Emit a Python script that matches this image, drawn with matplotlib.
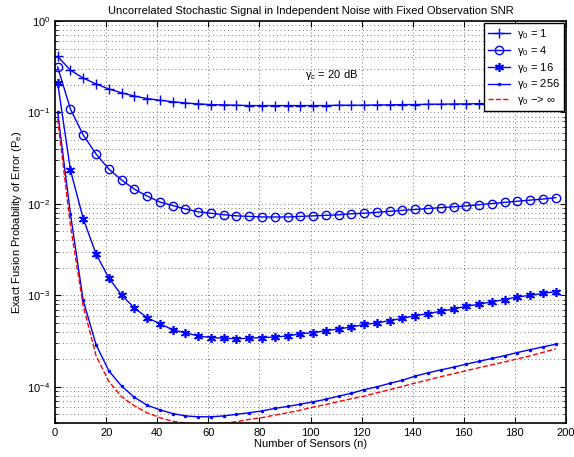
import numpy as np
import matplotlib
matplotlib.use("Agg")
import matplotlib.pyplot as plt
from matplotlib.ticker import LogLocator, NullFormatter, MultipleLocator

plt.rcParams["font.family"] = ["Liberation Sans", "DejaVu Sans"]
plt.rcParams["mathtext.fontset"] = "custom"
plt.rcParams["mathtext.rm"] = "Liberation Sans"
plt.rcParams["mathtext.it"] = "Liberation Sans"
plt.rcParams["mathtext.default"] = "regular"

# number of sensors (markers every 5 sensors)
n = list(range(1, 200, 5))

# gamma_0 = 1
pe_g1 = [0.41, 0.29, 0.238, 0.205, 0.181, 0.164, 0.151, 0.142, 0.136, 0.131,
         0.127, 0.124, 0.122, 0.121, 0.120, 0.119, 0.119, 0.119, 0.119, 0.119,
         0.119, 0.119, 0.120, 0.120, 0.120, 0.121, 0.121, 0.122, 0.122, 0.123,
         0.123, 0.124, 0.124, 0.125, 0.125, 0.126, 0.126, 0.127, 0.127, 0.128]

# gamma_0 = 4
pe_g4 = [0.314, 0.109, 0.0568, 0.0352, 0.0241, 0.0183, 0.0145, 0.0122, 0.0105, 0.0096,
         0.0088, 0.0082, 0.0079, 0.0076, 0.0074, 0.0073, 0.0072, 0.0072, 0.0072, 0.0073,
         0.0074, 0.0075, 0.0076, 0.0078, 0.0079, 0.0081, 0.0083, 0.0085, 0.0087, 0.0089,
         0.0091, 0.0093, 0.0095, 0.0098, 0.0101, 0.0104, 0.0107, 0.0110, 0.0113, 0.0117]

# gamma_0 = 16
pe_g16 = [0.21, 0.0235, 0.0069, 0.00285, 0.00155, 0.00101, 0.00073, 0.00057, 0.00049, 0.00042,
          0.00039, 0.00036, 0.000345, 0.00034, 0.000335, 0.00034, 0.000345, 0.00035, 0.00036, 0.00038,
          0.00039, 0.00041, 0.00043, 0.00045, 0.00048, 0.00050, 0.00053, 0.00056, 0.00060, 0.00063,
          0.00067, 0.00071, 0.00076, 0.00080, 0.00085, 0.00090, 0.00096, 0.00100, 0.00105, 0.00110]

# gamma_0 = 256
pe_g256 = [0.1, 0.0078, 0.00088, 0.00029, 0.00015, 0.000102, 7.7e-5, 6.3e-5, 5.6e-5, 5.1e-5,
           4.8e-5, 4.7e-5, 4.7e-5, 4.8e-5, 5.0e-5, 5.2e-5, 5.45e-5, 5.8e-5, 6.1e-5, 6.45e-5,
           6.85e-5, 7.3e-5, 7.9e-5, 8.5e-5, 9.3e-5, 1.0e-4, 1.09e-4, 1.18e-4, 1.31e-4, 1.42e-4,
           1.53e-4, 1.64e-4, 1.77e-4, 1.90e-4, 2.04e-4, 2.19e-4, 2.37e-4, 2.55e-4, 2.73e-4, 2.92e-4]

# gamma_0 -> infinity
pe_inf = [0.085, 0.0058, 0.00077, 0.00022, 0.000115, 7.8e-5, 6.2e-5, 5.2e-5, 4.6e-5, 4.2e-5,
          4.0e-5, 3.9e-5, 3.9e-5, 4.0e-5, 4.15e-5, 4.4e-5, 4.6e-5, 4.9e-5, 5.2e-5, 5.55e-5,
          6.0e-5, 6.4e-5, 6.9e-5, 7.4e-5, 7.9e-5, 8.6e-5, 9.3e-5, 1.01e-4, 1.1e-4, 1.19e-4,
          1.29e-4, 1.39e-4, 1.5e-4, 1.62e-4, 1.74e-4, 1.87e-4, 2.02e-4, 2.18e-4, 2.38e-4, 2.6e-4]

fig = plt.figure(figsize=(5.74, 4.57), dpi=100)
ax = fig.add_axes([0.096, 0.074, 0.890, 0.880])

ax.plot(n, pe_g1, color="blue", marker="+", markersize=6.5, linewidth=1, label="$\\gamma_0$ = 1")
ax.plot(n, pe_g4, color="blue", marker="o", markersize=6, markerfacecolor="none",
        linewidth=1, label="$\\gamma_0$ = 4")
ax.plot(n, pe_g16, color="blue", marker=(6, 2, 0), markersize=6.5, markeredgewidth=1.2,
        linewidth=1, label="$\\gamma_0$ = 16")
ax.plot(n, pe_g256, color="blue", marker=".", markersize=3, linewidth=1, label="$\\gamma_0$ = 256")
ax.plot(n, pe_inf, color="red", linestyle="--", linewidth=1, label="$\\gamma_0$ \u2212> \u221e")

ax.set_yscale("log")
ax.set_xlim(0, 200)
ax.set_ylim(4e-5, 1)
ax.xaxis.set_major_locator(MultipleLocator(20))
ax.yaxis.set_major_locator(LogLocator(base=10, numticks=10))
ax.yaxis.set_minor_locator(LogLocator(base=10, subs=np.arange(2, 10), numticks=10))
ax.yaxis.set_minor_formatter(NullFormatter())

ax.grid(True, which="major", linestyle=(0, (1, 3.5)), color="0.3", linewidth=0.6)
ax.grid(True, which="minor", axis="y", linestyle=(0, (1, 3.5)), color="0.3", linewidth=0.6)
ax.tick_params(which="both", direction="in", top=True, right=True, labelsize=8)
ax.tick_params(which="major", length=4)
ax.tick_params(which="minor", length=2)
for s in ax.spines.values():
    s.set_linewidth(1.2)

ax.set_title("Uncorrelated Stochastic Signal in Independent Noise with Fixed Observation SNR",
             fontsize=8, pad=5)
ax.set_xlabel("Number of Sensors (n)", fontsize=8, labelpad=1)
ax.set_ylabel("Exact Fusion Probability of Error (P$_e$)", fontsize=8, labelpad=2)

ax.text(98, 0.24, "$\\gamma_c$ = 20 dB", fontsize=8)

leg = ax.legend(loc="upper right", fontsize=8, fancybox=False, framealpha=1,
                edgecolor="black", borderaxespad=0.2, handlelength=2.0,
                labelspacing=0.25, borderpad=0.35, handletextpad=0.6)
leg.get_frame().set_linewidth(1.0)

fig.savefig("out.png", dpi=100)
